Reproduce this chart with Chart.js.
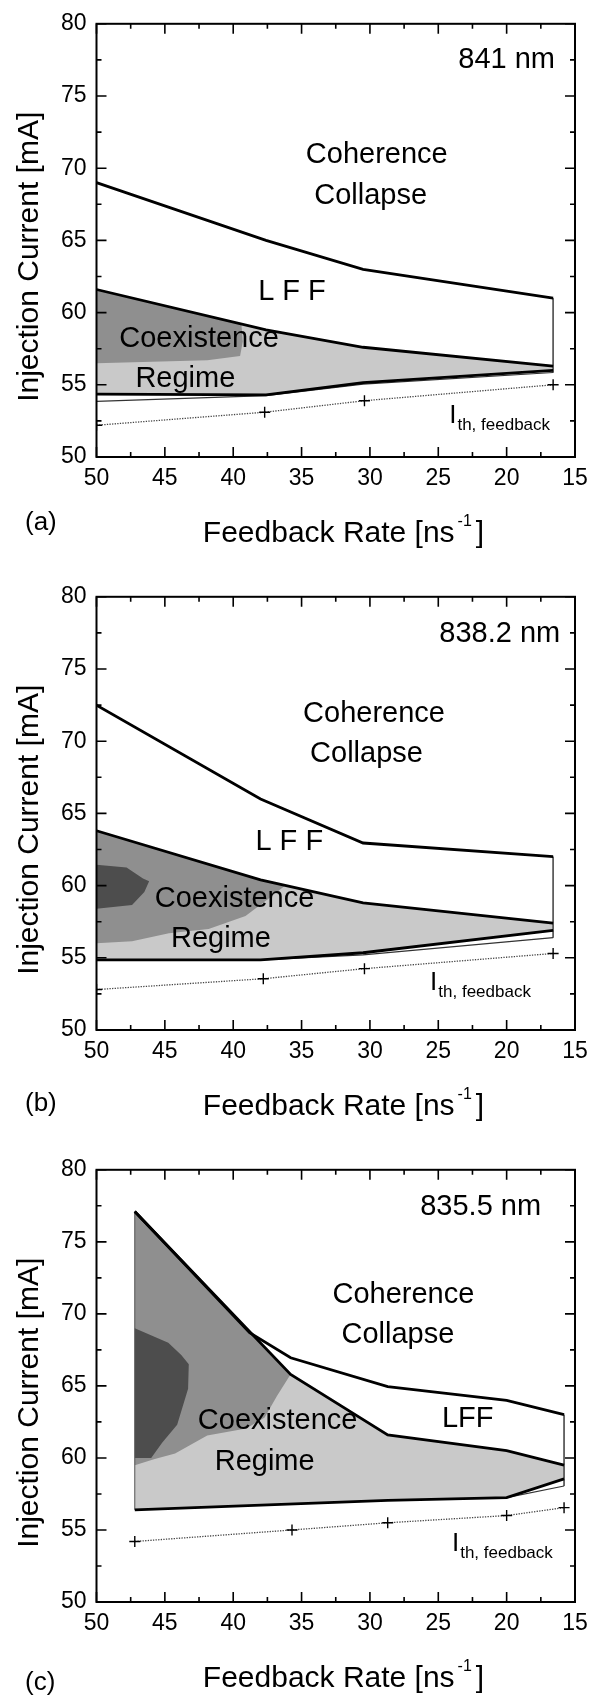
<!DOCTYPE html>
<html>
<head>
<meta charset="utf-8">
<script src="https://cdn.jsdelivr.net/npm/chart.js@4.4.1/dist/chart.umd.min.js"></script>
<style>
  html, body { margin: 0; padding: 0; background: #fff; }
  canvas { display: block; }
</style>
</head>
<body>
<canvas id="chartA" width="601" height="573"></canvas>
<canvas id="chartB" width="601" height="573"></canvas>
<canvas id="chartC" width="601" height="551"></canvas>
<script>
// axis ticks
const rateTicks = [50, 45, 40, 35, 30, 25, 20, 15];
const rateMinor = [47.5, 42.5, 37.5, 32.5, 27.5, 22.5, 17.5];
const currentTicks = [50, 55, 60, 65, 70, 75, 80];
const currentMinor = [52.5, 57.5, 62.5, 67.5, 72.5, 77.5];

// (a) 841 nm
const rateA = [50, 37.6, 30.5, 16.6];
const ccA = [69.0, 65.0, 63.0, 61.0];
const coexTopA = [61.6, 58.8, 57.6, 56.3];
const coexBotA = [54.35, 54.3, 55.15, 56.0];
const thinA = [53.85, 54.25, 55.05, 55.85];
const thRateA = [50, 37.7, 30.4, 16.6];
const thA = [52.2, 53.1, 53.9, 55.0];
const midRateA = [50, 39.4, 39.3, 39.5, 41.9, 50];
const midA = [61.6, 59.2, 58.0, 57.0, 56.7, 56.5];

// (b) 838.2 nm
const rateB = [50, 38.0, 30.5, 16.6];
const ccB = [72.5, 66.0, 62.95, 62.0];
const coexTopB = [63.8, 60.4, 58.8, 57.4];
const coexBotB = [54.85, 54.85, 55.35, 56.9];
const thinRateB = [38.0, 30.5, 16.6];
const thinB = [54.85, 55.2, 56.4];
const thRateB = [50, 37.8, 30.4, 16.6];
const thB = [52.8, 53.55, 54.25, 55.3];
const midRateB = [50, 38.0, 36.2, 37.4, 39.1, 41.8, 44.7, 47.4, 50];
const midB = [63.8, 60.4, 60.0, 59.1, 57.9, 57.0, 56.7, 56.15, 56.0];
const darkRateB = [50, 47.8, 46.6, 46.15, 46.5, 47.4, 50];
const darkB = [61.45, 61.25, 60.5, 60.3, 59.55, 58.65, 58.4];

// (c) 835.5 nm
const ccRateC = [47.2, 38.8, 35.8, 28.7, 20.0, 15.8];
const ccC = [77.1, 68.7, 66.95, 64.95, 64.0, 63.0];
const topRateC = [47.2, 35.8, 28.7, 20.0, 15.8];
const coexTopC = [77.1, 65.8, 61.6, 60.5, 59.5];
const botRateC = [47.2, 28.7, 20.0, 15.8];
const coexBotC = [56.4, 57.05, 57.25, 58.55];
const thinRateC = [20.0, 15.8];
const thinC = [57.25, 58.05];
const thRateC = [47.2, 35.7, 28.7, 20.0, 15.8];
const thC = [54.2, 55.0, 55.5, 56.0, 56.55];
const midRateC = [47.2, 35.8, 36.8, 37.7, 39.05, 41.9, 44.25, 45.8, 47.2];
const midC = [77.1, 65.8, 64.3, 62.8, 62.05, 61.55, 60.3, 59.9, 59.5];
const darkRateC = [47.2, 44.75, 43.8, 43.25, 43.3, 44.1, 45.2, 46.0, 47.2];
const darkC = [69.0, 68.0, 67.15, 66.5, 64.8, 62.3, 61.05, 60.0, 60.0];

const FONT = '"Liberation Sans", Arial, Helvetica, sans-serif';
const LIGHT = '#c9c9c9', MID = '#8f8f8f', DARK = '#4d4d4d';

function pts(xs, ys) { return xs.map((v, i) => ({x: v, y: ys[i]})); }
function closed(topXs, top, botXs, bot) {
  return pts(topXs.concat(botXs.slice().reverse()), top.concat(bot.slice().reverse()));
}
function area(data, color, order) {
  return {data: data, fill: 'shape', backgroundColor: color, borderWidth: 0, pointRadius: 0, order: order};
}
function edge(data, width, color) {
  return {data: data, fill: false, borderColor: color || '#000', borderWidth: width, pointRadius: 0, order: 1};
}
function thresh(data) {
  return {data: data, fill: false, borderColor: '#444', borderWidth: 1.3, borderDash: [1.3, 1.3],
    pointStyle: 'cross', pointRadius: 5.5, pointBorderColor: '#000', pointBorderWidth: 1.4, order: 1};
}
function last(a) { return a[a.length - 1]; }

function decor(cfg) {
  return {
    id: 'decor',
    afterDatasetsDraw(chart) {
      const {ctx, chartArea: a, scales: {x, y}} = chart;
      ctx.save();
      // inward ticks on all four sides
      ctx.strokeStyle = '#000';
      ctx.lineWidth = 1.6;
      ctx.beginPath();
      const xt = (vals, len) => vals.forEach(v => {
        const p = x.getPixelForValue(v);
        ctx.moveTo(p, a.bottom); ctx.lineTo(p, a.bottom - len);
        ctx.moveTo(p, a.top); ctx.lineTo(p, a.top + len);
      });
      const yt = (vals, len) => vals.forEach(v => {
        const p = y.getPixelForValue(v);
        ctx.moveTo(a.left, p); ctx.lineTo(a.left + len, p);
        ctx.moveTo(a.right, p); ctx.lineTo(a.right - len, p);
      });
      xt(rateTicks, 10); xt(rateMinor, 5);
      yt(currentTicks, 10); yt(currentMinor, 5);
      ctx.stroke();
      ctx.lineWidth = 2;
      ctx.strokeRect(a.left, a.top, a.width, a.height);

      // region labels
      ctx.fillStyle = '#000';
      ctx.textAlign = 'center';
      ctx.textBaseline = 'middle';
      ctx.font = '29px ' + FONT;
      cfg.notes.forEach(n => ctx.fillText(n.t, x.getPixelForValue(n.x), y.getPixelForValue(n.y)));

      // I_th, feedback
      ctx.textAlign = 'left';
      ctx.textBaseline = 'alphabetic';
      const ix = x.getPixelForValue(cfg.ith.x), iy = y.getPixelForValue(cfg.ith.y);
      ctx.font = '26px ' + FONT;
      ctx.fillText('I', ix, iy);
      const iw = ctx.measureText('I').width;
      ctx.font = '17px ' + FONT;
      ctx.fillText('th, feedback', ix + iw + 1, iy + 7);

      // x title with superscript
      const big = '30px ' + FONT, sup = '16px ' + FONT;
      ctx.font = big;
      const w1 = ctx.measureText('Feedback Rate [ns').width;
      const w3 = ctx.measureText(']').width;
      ctx.font = sup;
      const w2 = ctx.measureText('-1').width;
      const total = w1 + 3 + w2 + 4 + w3;
      let sx = a.left + 247 - total / 2;
      const by = a.bottom + 85;
      ctx.font = big;
      ctx.fillText('Feedback Rate [ns', sx, by);
      ctx.font = sup;
      ctx.fillText('-1', sx + w1 + 3, by - 16);
      ctx.font = big;
      ctx.fillText(']', sx + w1 + 3 + w2 + 4, by);

      // panel letter
      ctx.font = '26px ' + FONT;
      ctx.fillText(cfg.letter, 25, a.bottom + cfg.letterDrop);

      // y title
      ctx.translate(38, a.top + 233);
      ctx.rotate(-Math.PI / 2);
      ctx.textAlign = 'center';
      ctx.font = big;
      ctx.fillText('Injection Current [mA]', 0, 0);
      ctx.restore();
    }
  };
}

function makeChart(id, cfg, datasets) {
  return new Chart(document.getElementById(id), {
    type: 'line',
    data: {datasets: datasets},
    options: {
      responsive: false,
      animation: false,
      devicePixelRatio: 1,
      events: [],
      layout: {padding: {top: cfg.top, right: 26, left: 0, bottom: 0}},
      plugins: {legend: {display: false}, tooltip: {enabled: false}},
      scales: {
        x: {
          type: 'linear', reverse: true, min: 15, max: 50,
          afterBuildTicks: s => { s.ticks = rateTicks.map(v => ({value: v})); },
          afterFit: s => { s.height = cfg.xHeight; },
          grid: {display: false, drawTicks: false},
          border: {display: false},
          ticks: {color: '#000', padding: 8, font: {family: FONT, size: 23}}
        },
        y: {
          type: 'linear', min: 50, max: 80,
          afterBuildTicks: s => { s.ticks = currentTicks.map(v => ({value: v})); },
          afterFit: s => { s.width = 96.5; },
          grid: {display: false, drawTicks: false},
          border: {display: false},
          ticks: {color: '#000', padding: 10, font: {family: FONT, size: 23}}
        }
      }
    },
    plugins: [decor(cfg)]
  });
}

makeChart('chartA', {
  top: 16, xHeight: 116, letter: '(a)', letterDrop: 73,
  ith: {x: 24.2, y: 52.35},
  notes: [
    {t: '841 nm', x: 20.0, y: 77.5},
    {t: 'Coherence', x: 29.5, y: 70.9},
    {t: 'Collapse', x: 29.95, y: 68.1},
    {t: 'L F F', x: 35.7, y: 61.4},
    {t: 'Coexistence', x: 42.5, y: 58.2},
    {t: 'Regime', x: 43.5, y: 55.4}
  ]
}, [
  edge(pts(rateA, ccA), 2.8),
  edge(pts(rateA, coexTopA), 2.8),
  edge(pts(rateA, coexBotA), 2.8),
  edge(pts(rateA, thinA), 1.2, '#333'),
  edge(pts([last(rateA), last(rateA)], [last(ccA), last(thinA)]), 1, '#555'),
  thresh(pts(thRateA, thA)),
  area(pts(midRateA, midA), MID, 3),
  area(closed(rateA, coexTopA, rateA, coexBotA), LIGHT, 4)
]);

makeChart('chartB', {
  top: 16, xHeight: 116, letter: '(b)', letterDrop: 81,
  ith: {x: 25.6, y: 52.75},
  notes: [
    {t: '838.2 nm', x: 20.5, y: 77.45},
    {t: 'Coherence', x: 29.7, y: 71.9},
    {t: 'Collapse', x: 30.25, y: 69.1},
    {t: 'L F F', x: 35.9, y: 63.05},
    {t: 'Coexistence', x: 39.9, y: 59.05},
    {t: 'Regime', x: 40.9, y: 56.3}
  ]
}, [
  edge(pts(rateB, ccB), 2.8),
  edge(pts(rateB, coexTopB), 2.8),
  edge(pts(rateB, coexBotB), 2.8),
  edge(pts(thinRateB, thinB), 1.2, '#333'),
  edge(pts([last(rateB), last(rateB)], [last(ccB), last(thinB)]), 1, '#555'),
  thresh(pts(thRateB, thB)),
  area(pts(darkRateB, darkB), DARK, 2),
  area(pts(midRateB, midB), MID, 3),
  area(closed(rateB, coexTopB, rateB, coexBotB), LIGHT, 4)
]);

makeChart('chartC', {
  top: 15, xHeight: 95, letter: '(c)', letterDrop: 88,
  ith: {x: 24.0, y: 53.55},
  notes: [
    {t: '835.5 nm', x: 21.9, y: 77.4},
    {t: 'Coherence', x: 27.55, y: 71.3},
    {t: 'Collapse', x: 27.95, y: 68.55},
    {t: 'LFF', x: 22.85, y: 62.7},
    {t: 'Coexistence', x: 36.75, y: 62.55},
    {t: 'Regime', x: 37.7, y: 59.7}
  ]
}, [
  edge(pts(ccRateC, ccC), 2.8),
  edge(pts(topRateC, coexTopC), 2.8),
  edge(pts(botRateC, coexBotC), 2.8),
  edge(pts(thinRateC, thinC), 1.2, '#333'),
  edge(pts([botRateC[0], botRateC[0]], [coexBotC[0], coexTopC[0]]), 1, '#555'),
  edge(pts([last(ccRateC), last(ccRateC)], [last(ccC), last(thinC)]), 1, '#555'),
  thresh(pts(thRateC, thC)),
  area(pts(darkRateC, darkC), DARK, 2),
  area(pts(midRateC, midC), MID, 3),
  area(closed(topRateC, coexTopC, botRateC, coexBotC), LIGHT, 4)
]);
</script>
</body>
</html>
